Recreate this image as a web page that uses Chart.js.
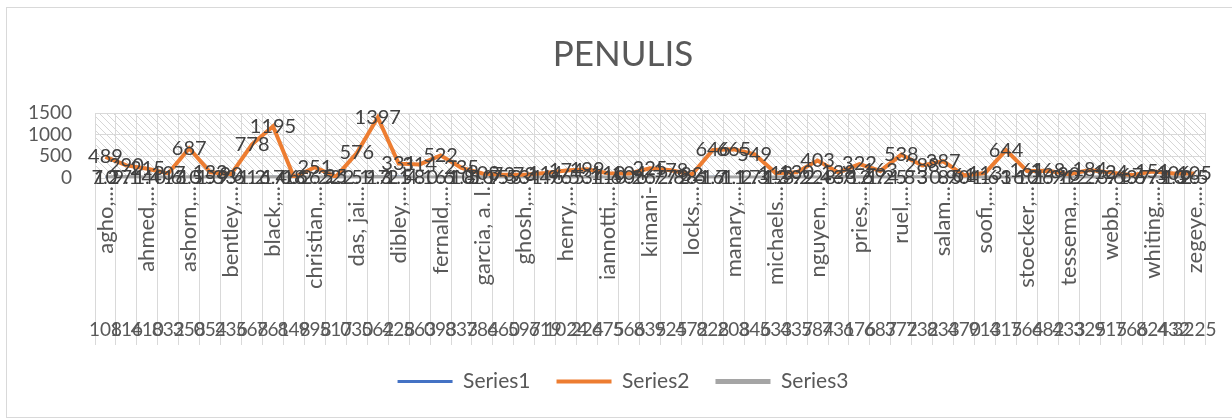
<!DOCTYPE html>
<html>
<head>
<meta charset="utf-8">
<script src="https://cdn.jsdelivr.net/npm/chart.js@4.4.1/dist/chart.umd.min.js"></script>
<style>
  body { margin: 0; background: #fff; }
  canvas { display: block; }
</style>
</head>
<body>
<canvas id="chart" width="1232" height="419"></canvas>
<script>
// category names (only every other one is shown on the axis, like the original)
const names = [
    "agho,...", "ahmad,...", "ahmed,...", "alam,...", "ashorn,...", "barker,...",
    "bentley,...", "bhutta,...", "black,...", "brown,...", "christian,...", "dangour,...",
    "das, jai...", "dewey,...", "dibley,...", "faruque,...", "fernald,...", "frongillo,...",
    "garcia, a. l.", "gewa,...", "ghosh,...", "hamer,...", "henry,...", "huybregts,...",
    "iannotti,...", "kennedy,...", "kimani-", "kurz,...", "locks,...", "lutter,...",
    "manary,...", "martorell,...", "michaels...", "mwangi,...", "nguyen,...", "pelletier,...",
    "pries,...", "rivera,...", "ruel,...", "saha,...", "salam...", "shrimpton,...",
    "soofi,...", "stewart,...", "stoecker,...", "tedla,...", "tessema,...", "victora,...",
    "webb,...", "west,...", "whiting,...", "yakes,...", "zegeye,..."
];

// second (outer) label row
const codes = [
    "108", "116", "410", "832", "358", "054", "236", "568", "761", "848",
    "998", "517", "030", "562", "428", "563", "093", "833", "784", "660",
    "597", "619", "1024", "224", "675", "566", "835", "925", "472", "828",
    "208", "346", "533", "437", "584", "731", "676", "687", "372", "732",
    "833", "470", "913", "415", "764", "682", "433", "325", "915", "766",
    "824", "432", "3225"
];

const series1 = [
    10, 7, 4, 1, 10, 5, 3, 1, 17, 6, 6, 2, 5, 17, 21, 8, 6, 10, 10, 5,
    3, 4, 6, 3, 1, 0, 6, 7, 8, 16, 11, 7, 12, 9, 2, 3, 12, 7, 5, 3,
    8, 0, 1, 3, 10, 6, 12, 2, 9, 3, 7, 10, 6
];

const series2 = [
    489, 290, 215, 107, 687, 133, 90, 778, 1195, 18, 251, 25, 576, 1397, 331, 314, 522, 235, 103, 73,
    73, 114, 174, 199, 110, 104, 225, 178, 82, 646, 665, 549, 113, 130, 403, 128, 322, 163, 538, 288,
    387, 61, 113, 644, 161, 168, 90, 184, 124, 67, 151, 106, 105
];

const series3 = [
    7.2, 9.1, 1.4, 0.6, 3.5, 1.3, 9.6, 1.2, 6.4, 0.6, 2.2, 5.1, 2.1, 9.3, 1.5, 4.1, 0.6, 1.8, 5.1, 7.5,
    3.4, 1.9, 6.5, 5.1, 1.6, 0.2, 6.7, 2.8, 2.6, 1.7, 1.1, 2.3, 1.3, 3.2, 2.4, 8.7, 3.6, 1.2, 4.8, 3.0,
    0.9, 5.4, 1.6, 1.0, 6.2, 1.9, 1.0, 2.7, 3.6, 1.6, 7.3, 1.3, 2.5
];

const yMin = 0;
const yMax = 1500;
const yStep = 500;

const FONT = "Lato";
const TEXT = "#595959";
const GRID = "#d9d9d9";

// diagonal hatch used as plot area fill
function makeHatch() {
    const c = document.createElement("canvas");
    c.width = 7;
    c.height = 7;
    const g = c.getContext("2d");
    g.strokeStyle = "#d6d6d6";
    g.lineWidth = 1;
    g.beginPath();
    g.moveTo(-1, -1);
    g.lineTo(8, 8);
    g.stroke();
    return g.createPattern(c, "repeat");
}

const framePlugin = {
    id: "frame",
    beforeDraw(chart) {
        const { ctx, chartArea: a } = chart;
        ctx.save();
        ctx.fillStyle = "#fff";
        ctx.fillRect(0, 0, chart.width, chart.height);
        ctx.strokeStyle = GRID;
        ctx.lineWidth = 1;
        ctx.strokeRect(6.5, 7.5, 1240, 410);
        ctx.fillStyle = makeHatch();
        ctx.fillRect(a.left, a.top, a.right - a.left, a.bottom - a.top);
        ctx.restore();
    },
};

const valueLabels = {
    id: "valueLabels",
    afterDatasetsDraw(chart) {
        const ctx = chart.ctx;
        ctx.save();
        ctx.font = `20px ${FONT}`;
        ctx.fillStyle = "#404040";
        ctx.textAlign = "center";
        ctx.textBaseline = "middle";
        chart.data.datasets.forEach((ds, i) => {
            chart.getDatasetMeta(i).data.forEach((pt, j) => {
                ctx.fillText(String(ds.data[j]), pt.x, pt.y);
            });
        });
        ctx.restore();
    },
};

const lineStyle = {
    pointRadius: 0,
    pointHoverRadius: 0,
    tension: 0,
    fill: false,
};

new Chart(document.getElementById("chart"), {
    type: "line",
    data: {
        labels: names,
        datasets: [
            { ...lineStyle, label: "Series1", data: series1, borderColor: "#4472C4", backgroundColor: "#4472C4", borderWidth: 3, order: 2 },
            { ...lineStyle, label: "Series2", data: series2, borderColor: "#ED7D31", backgroundColor: "#ED7D31", borderWidth: 4, order: 0 },
            { ...lineStyle, label: "Series3", data: series3, borderColor: "#A5A5A5", backgroundColor: "#A5A5A5", borderWidth: 5, order: 1 },
        ],
    },
    options: {
        responsive: false,
        animation: false,
        devicePixelRatio: 1,
        layout: { padding: { left: 14, right: 0, top: 0, bottom: 17 } },
        scales: {
            x: {
                type: "category",
                position: "bottom",
                weight: 0,
                offset: true,
                grid: { offset: true, color: GRID, tickColor: GRID, tickLength: 127 },
                border: { display: false },
                ticks: {
                    autoSkip: false,
                    minRotation: 90,
                    maxRotation: 90,
                    padding: -119,
                    color: TEXT,
                    font: { family: FONT, size: 22 },
                    callback: (v, i) => (i % 2 === 0 ? names[i] : ""),
                },
                afterFit: (s) => { s.height = 127; },
            },
            x2: {
                type: "category",
                labels: codes,
                position: "bottom",
                weight: 1,
                offset: true,
                grid: { offset: true, drawOnChartArea: false, color: GRID, tickColor: GRID, tickLength: 40 },
                border: { display: false },
                ticks: {
                    autoSkip: false,
                    minRotation: 0,
                    maxRotation: 0,
                    padding: -27,
                    color: TEXT,
                    font: { family: FONT, size: 19 },
                },
                afterFit: (s) => { s.height = 40; },
            },
            y: {
                min: yMin,
                max: yMax,
                grid: { color: GRID, drawTicks: false },
                border: { display: false },
                ticks: {
                    stepSize: yStep,
                    autoSkip: false,
                    padding: 23,
                    color: TEXT,
                    font: { family: FONT, size: 19 },
                    callback: (v) => String(v),
                },
                afterFit: (s) => { s.width = 81; },
            },
            // empty right-hand spacer so the plot ends where the original does
            yRight: {
                type: "linear",
                position: "right",
                grid: { display: false },
                border: { display: false },
                ticks: { display: false },
                afterFit: (s) => { s.width = 27; },
            },
        },
        plugins: {
            title: {
                display: true,
                text: "PENULIS",
                color: TEXT,
                font: { family: FONT, size: 35, weight: "normal" },
                padding: { top: 34, bottom: 37 },
            },
            legend: {
                position: "bottom",
                labels: {
                    usePointStyle: true,
                    pointStyle: "line",
                    pointStyleWidth: 55,
                    padding: 26,
                    color: TEXT,
                    font: { family: FONT, size: 21 },
                    sort: (a, b) => a.datasetIndex - b.datasetIndex,
                },
            },
            tooltip: { enabled: false },
        },
    },
    plugins: [framePlugin, valueLabels],
});
</script>
</body>
</html>
